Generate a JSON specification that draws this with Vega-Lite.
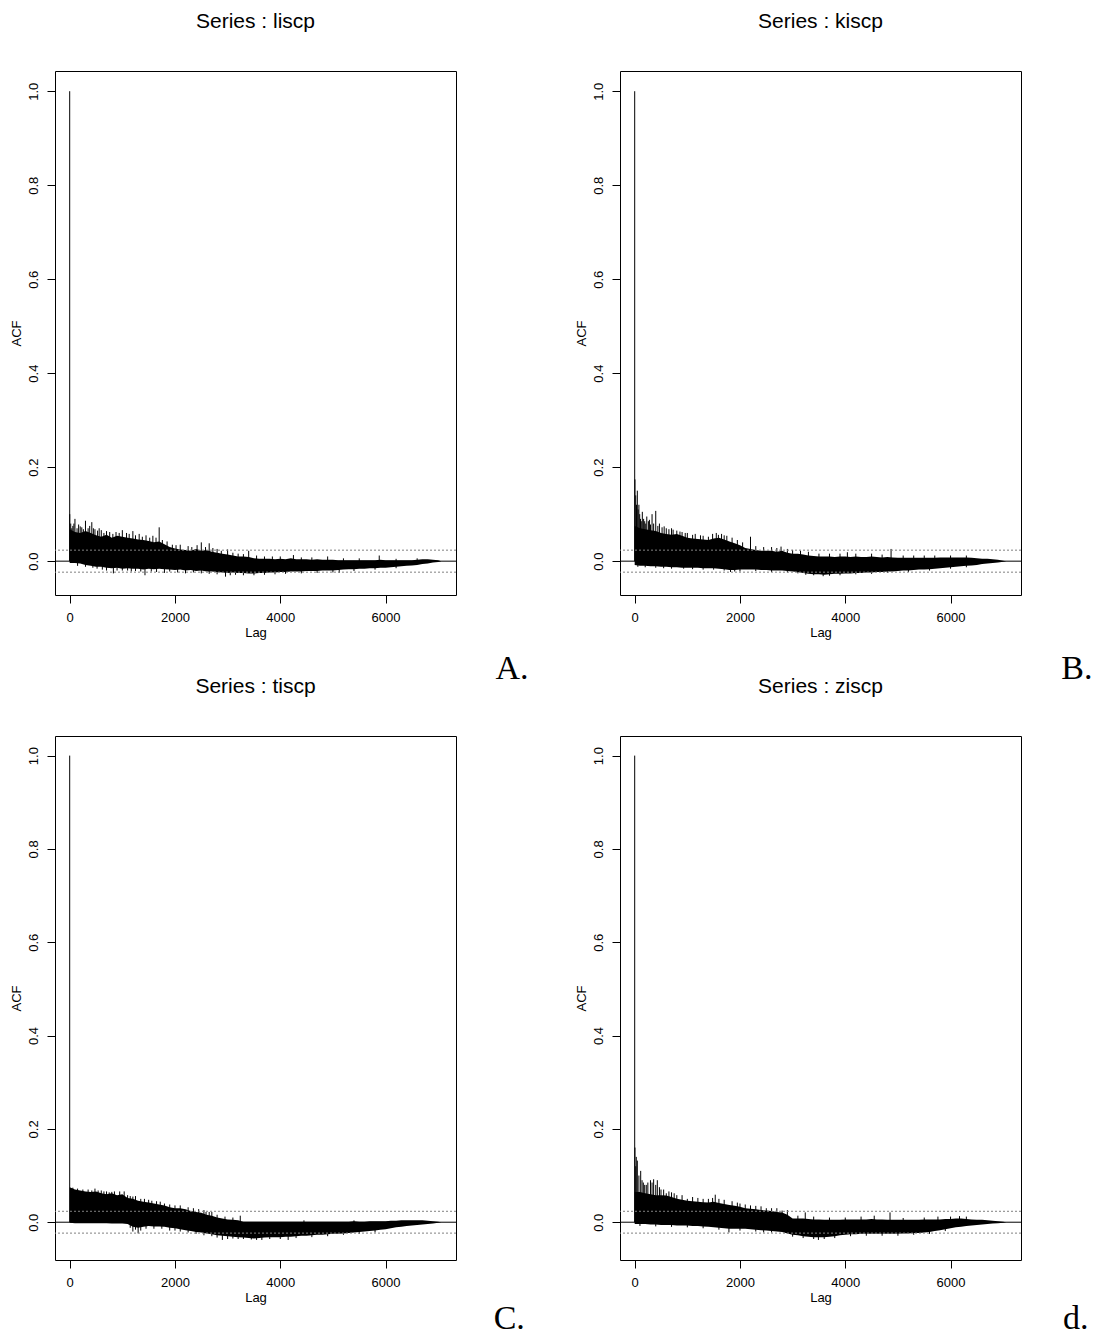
{
"$schema":"https://vega.github.io/schema/vega-lite/v6.json",
"background":"white",
"padding":{"left":9,"top":10,"right":5,"bottom":5},
"datasets":{
"env":[
{"p":"A","lag":0,"hi":0.068,"lo":-0.004},{"p":"A","lag":100,"hi":0.062,"lo":-0.004},{"p":"A","lag":200,"hi":0.06,"lo":-0.005},{"p":"A","lag":300,"hi":0.064,"lo":-0.008},{"p":"A","lag":400,"hi":0.06,"lo":-0.01},{"p":"A","lag":500,"hi":0.055,"lo":-0.012},{"p":"A","lag":600,"hi":0.052,"lo":-0.012},{"p":"A","lag":700,"hi":0.056,"lo":-0.014},{"p":"A","lag":800,"hi":0.05,"lo":-0.015},{"p":"A","lag":900,"hi":0.054,"lo":-0.014},{"p":"A","lag":1000,"hi":0.052,"lo":-0.016},{"p":"A","lag":1100,"hi":0.05,"lo":-0.015},{"p":"A","lag":1200,"hi":0.048,"lo":-0.016},{"p":"A","lag":1300,"hi":0.046,"lo":-0.016},{"p":"A","lag":1400,"hi":0.045,"lo":-0.018},{"p":"A","lag":1500,"hi":0.043,"lo":-0.016},{"p":"A","lag":1600,"hi":0.04,"lo":-0.017},{"p":"A","lag":1700,"hi":0.042,"lo":-0.016},{"p":"A","lag":1800,"hi":0.036,"lo":-0.017},{"p":"A","lag":1900,"hi":0.03,"lo":-0.018},{"p":"A","lag":2000,"hi":0.027,"lo":-0.019},{"p":"A","lag":2100,"hi":0.025,"lo":-0.018},{"p":"A","lag":2200,"hi":0.024,"lo":-0.02},{"p":"A","lag":2300,"hi":0.022,"lo":-0.019},{"p":"A","lag":2400,"hi":0.026,"lo":-0.021},{"p":"A","lag":2500,"hi":0.022,"lo":-0.02},{"p":"A","lag":2600,"hi":0.024,"lo":-0.022},{"p":"A","lag":2700,"hi":0.02,"lo":-0.022},{"p":"A","lag":2800,"hi":0.018,"lo":-0.023},{"p":"A","lag":2900,"hi":0.016,"lo":-0.024},{"p":"A","lag":3000,"hi":0.014,"lo":-0.025},{"p":"A","lag":3100,"hi":0.012,"lo":-0.024},{"p":"A","lag":3200,"hi":0.01,"lo":-0.025},{"p":"A","lag":3300,"hi":0.01,"lo":-0.025},{"p":"A","lag":3400,"hi":0.009,"lo":-0.026},{"p":"A","lag":3500,"hi":0.006,"lo":-0.026},{"p":"A","lag":3600,"hi":0.005,"lo":-0.025},{"p":"A","lag":3700,"hi":0.005,"lo":-0.025},{"p":"A","lag":3800,"hi":0.005,"lo":-0.024},{"p":"A","lag":3900,"hi":0.004,"lo":-0.024},{"p":"A","lag":4000,"hi":0.005,"lo":-0.023},{"p":"A","lag":4100,"hi":0.004,"lo":-0.023},{"p":"A","lag":4200,"hi":0.006,"lo":-0.022},{"p":"A","lag":4300,"hi":0.004,"lo":-0.022},{"p":"A","lag":4400,"hi":0.004,"lo":-0.022},{"p":"A","lag":4500,"hi":0.004,"lo":-0.021},{"p":"A","lag":4600,"hi":0.003,"lo":-0.021},{"p":"A","lag":4700,"hi":0.004,"lo":-0.021},{"p":"A","lag":4800,"hi":0.003,"lo":-0.02},{"p":"A","lag":4900,"hi":0.003,"lo":-0.02},{"p":"A","lag":5000,"hi":0.003,"lo":-0.02},{"p":"A","lag":5100,"hi":0.002,"lo":-0.019},{"p":"A","lag":5200,"hi":0.002,"lo":-0.018},{"p":"A","lag":5300,"hi":0.002,"lo":-0.017},{"p":"A","lag":5400,"hi":0.002,"lo":-0.017},{"p":"A","lag":5500,"hi":0.002,"lo":-0.016},{"p":"A","lag":5600,"hi":0.002,"lo":-0.016},{"p":"A","lag":5700,"hi":0.002,"lo":-0.015},{"p":"A","lag":5800,"hi":0.002,"lo":-0.015},{"p":"A","lag":5900,"hi":0.003,"lo":-0.014},{"p":"A","lag":6000,"hi":0.002,"lo":-0.014},{"p":"A","lag":6100,"hi":0.002,"lo":-0.013},{"p":"A","lag":6200,"hi":0.002,"lo":-0.012},{"p":"A","lag":6300,"hi":0.002,"lo":-0.011},{"p":"A","lag":6400,"hi":0.002,"lo":-0.01},{"p":"A","lag":6500,"hi":0.002,"lo":-0.009},{"p":"A","lag":6600,"hi":0.003,"lo":-0.008},{"p":"A","lag":6700,"hi":0.004,"lo":-0.006},{"p":"A","lag":6800,"hi":0.004,"lo":-0.005},{"p":"A","lag":6900,"hi":0.003,"lo":-0.003},{"p":"A","lag":7000,"hi":0.002,"lo":-0.002},{"p":"A","lag":7058,"hi":0,"lo":0},
{"p":"B","lag":0,"hi":0.075,"lo":-0.008},{"p":"B","lag":100,"hi":0.07,"lo":-0.01},{"p":"B","lag":200,"hi":0.068,"lo":-0.01},{"p":"B","lag":300,"hi":0.066,"lo":-0.011},{"p":"B","lag":400,"hi":0.064,"lo":-0.011},{"p":"B","lag":500,"hi":0.06,"lo":-0.012},{"p":"B","lag":600,"hi":0.058,"lo":-0.012},{"p":"B","lag":700,"hi":0.056,"lo":-0.013},{"p":"B","lag":800,"hi":0.058,"lo":-0.013},{"p":"B","lag":900,"hi":0.054,"lo":-0.014},{"p":"B","lag":1000,"hi":0.05,"lo":-0.014},{"p":"B","lag":1100,"hi":0.048,"lo":-0.014},{"p":"B","lag":1200,"hi":0.047,"lo":-0.014},{"p":"B","lag":1300,"hi":0.046,"lo":-0.015},{"p":"B","lag":1400,"hi":0.045,"lo":-0.015},{"p":"B","lag":1500,"hi":0.048,"lo":-0.015},{"p":"B","lag":1600,"hi":0.05,"lo":-0.016},{"p":"B","lag":1700,"hi":0.046,"lo":-0.017},{"p":"B","lag":1800,"hi":0.042,"lo":-0.019},{"p":"B","lag":1900,"hi":0.038,"lo":-0.019},{"p":"B","lag":2000,"hi":0.034,"lo":-0.018},{"p":"B","lag":2100,"hi":0.028,"lo":-0.018},{"p":"B","lag":2200,"hi":0.026,"lo":-0.018},{"p":"B","lag":2300,"hi":0.024,"lo":-0.018},{"p":"B","lag":2400,"hi":0.022,"lo":-0.019},{"p":"B","lag":2500,"hi":0.022,"lo":-0.019},{"p":"B","lag":2600,"hi":0.022,"lo":-0.02},{"p":"B","lag":2700,"hi":0.02,"lo":-0.02},{"p":"B","lag":2800,"hi":0.022,"lo":-0.02},{"p":"B","lag":2900,"hi":0.018,"lo":-0.021},{"p":"B","lag":3000,"hi":0.016,"lo":-0.022},{"p":"B","lag":3100,"hi":0.016,"lo":-0.023},{"p":"B","lag":3200,"hi":0.014,"lo":-0.025},{"p":"B","lag":3300,"hi":0.012,"lo":-0.027},{"p":"B","lag":3400,"hi":0.011,"lo":-0.028},{"p":"B","lag":3500,"hi":0.01,"lo":-0.028},{"p":"B","lag":3600,"hi":0.01,"lo":-0.029},{"p":"B","lag":3700,"hi":0.01,"lo":-0.028},{"p":"B","lag":3800,"hi":0.009,"lo":-0.027},{"p":"B","lag":3900,"hi":0.01,"lo":-0.027},{"p":"B","lag":4000,"hi":0.01,"lo":-0.026},{"p":"B","lag":4100,"hi":0.009,"lo":-0.026},{"p":"B","lag":4200,"hi":0.01,"lo":-0.025},{"p":"B","lag":4300,"hi":0.009,"lo":-0.025},{"p":"B","lag":4400,"hi":0.009,"lo":-0.024},{"p":"B","lag":4500,"hi":0.01,"lo":-0.024},{"p":"B","lag":4600,"hi":0.009,"lo":-0.023},{"p":"B","lag":4700,"hi":0.008,"lo":-0.023},{"p":"B","lag":4800,"hi":0.009,"lo":-0.022},{"p":"B","lag":4900,"hi":0.008,"lo":-0.022},{"p":"B","lag":5000,"hi":0.007,"lo":-0.021},{"p":"B","lag":5100,"hi":0.007,"lo":-0.02},{"p":"B","lag":5200,"hi":0.007,"lo":-0.02},{"p":"B","lag":5300,"hi":0.007,"lo":-0.019},{"p":"B","lag":5400,"hi":0.007,"lo":-0.018},{"p":"B","lag":5500,"hi":0.007,"lo":-0.018},{"p":"B","lag":5600,"hi":0.007,"lo":-0.017},{"p":"B","lag":5700,"hi":0.007,"lo":-0.016},{"p":"B","lag":5800,"hi":0.008,"lo":-0.015},{"p":"B","lag":5900,"hi":0.008,"lo":-0.014},{"p":"B","lag":6000,"hi":0.008,"lo":-0.013},{"p":"B","lag":6100,"hi":0.008,"lo":-0.012},{"p":"B","lag":6200,"hi":0.008,"lo":-0.011},{"p":"B","lag":6300,"hi":0.008,"lo":-0.01},{"p":"B","lag":6400,"hi":0.007,"lo":-0.009},{"p":"B","lag":6500,"hi":0.006,"lo":-0.008},{"p":"B","lag":6600,"hi":0.005,"lo":-0.006},{"p":"B","lag":6700,"hi":0.005,"lo":-0.005},{"p":"B","lag":6800,"hi":0.004,"lo":-0.004},{"p":"B","lag":6900,"hi":0.003,"lo":-0.003},{"p":"B","lag":7000,"hi":0.001,"lo":-0.001},{"p":"B","lag":7058,"hi":0,"lo":0},
{"p":"C","lag":0,"hi":0.075,"lo":-0.001},{"p":"C","lag":100,"hi":0.07,"lo":-0.002},{"p":"C","lag":200,"hi":0.068,"lo":-0.002},{"p":"C","lag":300,"hi":0.066,"lo":-0.002},{"p":"C","lag":400,"hi":0.065,"lo":-0.002},{"p":"C","lag":500,"hi":0.066,"lo":-0.002},{"p":"C","lag":600,"hi":0.062,"lo":-0.002},{"p":"C","lag":700,"hi":0.06,"lo":-0.002},{"p":"C","lag":800,"hi":0.062,"lo":-0.003},{"p":"C","lag":900,"hi":0.058,"lo":-0.003},{"p":"C","lag":1000,"hi":0.06,"lo":-0.003},{"p":"C","lag":1100,"hi":0.052,"lo":-0.004},{"p":"C","lag":1200,"hi":0.05,"lo":-0.01},{"p":"C","lag":1300,"hi":0.046,"lo":-0.012},{"p":"C","lag":1400,"hi":0.044,"lo":-0.01},{"p":"C","lag":1500,"hi":0.042,"lo":-0.008},{"p":"C","lag":1600,"hi":0.04,"lo":-0.009},{"p":"C","lag":1700,"hi":0.038,"lo":-0.009},{"p":"C","lag":1800,"hi":0.036,"lo":-0.01},{"p":"C","lag":1900,"hi":0.032,"lo":-0.012},{"p":"C","lag":2000,"hi":0.03,"lo":-0.013},{"p":"C","lag":2100,"hi":0.03,"lo":-0.015},{"p":"C","lag":2200,"hi":0.028,"lo":-0.017},{"p":"C","lag":2300,"hi":0.024,"lo":-0.019},{"p":"C","lag":2400,"hi":0.022,"lo":-0.021},{"p":"C","lag":2500,"hi":0.02,"lo":-0.022},{"p":"C","lag":2600,"hi":0.016,"lo":-0.024},{"p":"C","lag":2700,"hi":0.014,"lo":-0.026},{"p":"C","lag":2800,"hi":0.01,"lo":-0.028},{"p":"C","lag":2900,"hi":0.008,"lo":-0.029},{"p":"C","lag":3000,"hi":0.006,"lo":-0.03},{"p":"C","lag":3100,"hi":0.005,"lo":-0.031},{"p":"C","lag":3200,"hi":0.004,"lo":-0.032},{"p":"C","lag":3300,"hi":0.001,"lo":-0.033},{"p":"C","lag":3400,"hi":0.001,"lo":-0.034},{"p":"C","lag":3500,"hi":0.001,"lo":-0.035},{"p":"C","lag":3600,"hi":0.001,"lo":-0.034},{"p":"C","lag":3700,"hi":0.001,"lo":-0.033},{"p":"C","lag":3800,"hi":0.001,"lo":-0.032},{"p":"C","lag":3900,"hi":0.001,"lo":-0.032},{"p":"C","lag":4000,"hi":0.001,"lo":-0.032},{"p":"C","lag":4100,"hi":0.001,"lo":-0.031},{"p":"C","lag":4200,"hi":0.001,"lo":-0.031},{"p":"C","lag":4300,"hi":0.001,"lo":-0.03},{"p":"C","lag":4400,"hi":0.001,"lo":-0.029},{"p":"C","lag":4500,"hi":0.001,"lo":-0.029},{"p":"C","lag":4600,"hi":0.001,"lo":-0.028},{"p":"C","lag":4700,"hi":0.001,"lo":-0.027},{"p":"C","lag":4800,"hi":0.001,"lo":-0.027},{"p":"C","lag":4900,"hi":0.001,"lo":-0.026},{"p":"C","lag":5000,"hi":0.001,"lo":-0.025},{"p":"C","lag":5100,"hi":0.001,"lo":-0.025},{"p":"C","lag":5200,"hi":0.001,"lo":-0.024},{"p":"C","lag":5300,"hi":0.001,"lo":-0.023},{"p":"C","lag":5400,"hi":0.002,"lo":-0.022},{"p":"C","lag":5500,"hi":0.001,"lo":-0.021},{"p":"C","lag":5600,"hi":0.001,"lo":-0.02},{"p":"C","lag":5700,"hi":0.002,"lo":-0.019},{"p":"C","lag":5800,"hi":0.002,"lo":-0.018},{"p":"C","lag":5900,"hi":0.002,"lo":-0.016},{"p":"C","lag":6000,"hi":0.002,"lo":-0.015},{"p":"C","lag":6100,"hi":0.003,"lo":-0.013},{"p":"C","lag":6200,"hi":0.003,"lo":-0.011},{"p":"C","lag":6300,"hi":0.004,"lo":-0.01},{"p":"C","lag":6400,"hi":0.004,"lo":-0.008},{"p":"C","lag":6500,"hi":0.004,"lo":-0.007},{"p":"C","lag":6600,"hi":0.004,"lo":-0.006},{"p":"C","lag":6700,"hi":0.004,"lo":-0.005},{"p":"C","lag":6800,"hi":0.003,"lo":-0.004},{"p":"C","lag":6900,"hi":0.002,"lo":-0.003},{"p":"C","lag":7000,"hi":0.001,"lo":-0.001},{"p":"C","lag":7058,"hi":0,"lo":0},
{"p":"D","lag":0,"hi":0.065,"lo":-0.004},{"p":"D","lag":100,"hi":0.065,"lo":-0.004},{"p":"D","lag":200,"hi":0.062,"lo":-0.004},{"p":"D","lag":300,"hi":0.06,"lo":-0.005},{"p":"D","lag":400,"hi":0.058,"lo":-0.005},{"p":"D","lag":500,"hi":0.058,"lo":-0.006},{"p":"D","lag":600,"hi":0.057,"lo":-0.006},{"p":"D","lag":700,"hi":0.054,"lo":-0.006},{"p":"D","lag":800,"hi":0.05,"lo":-0.007},{"p":"D","lag":900,"hi":0.048,"lo":-0.007},{"p":"D","lag":1000,"hi":0.046,"lo":-0.007},{"p":"D","lag":1100,"hi":0.045,"lo":-0.008},{"p":"D","lag":1200,"hi":0.044,"lo":-0.008},{"p":"D","lag":1300,"hi":0.043,"lo":-0.009},{"p":"D","lag":1400,"hi":0.042,"lo":-0.01},{"p":"D","lag":1500,"hi":0.044,"lo":-0.011},{"p":"D","lag":1600,"hi":0.041,"lo":-0.012},{"p":"D","lag":1700,"hi":0.039,"lo":-0.013},{"p":"D","lag":1800,"hi":0.037,"lo":-0.014},{"p":"D","lag":1900,"hi":0.035,"lo":-0.014},{"p":"D","lag":2000,"hi":0.033,"lo":-0.014},{"p":"D","lag":2100,"hi":0.03,"lo":-0.014},{"p":"D","lag":2200,"hi":0.029,"lo":-0.015},{"p":"D","lag":2300,"hi":0.028,"lo":-0.016},{"p":"D","lag":2400,"hi":0.026,"lo":-0.017},{"p":"D","lag":2500,"hi":0.025,"lo":-0.018},{"p":"D","lag":2600,"hi":0.024,"lo":-0.019},{"p":"D","lag":2700,"hi":0.022,"lo":-0.02},{"p":"D","lag":2800,"hi":0.021,"lo":-0.021},{"p":"D","lag":2900,"hi":0.016,"lo":-0.024},{"p":"D","lag":3000,"hi":0.008,"lo":-0.027},{"p":"D","lag":3100,"hi":0.008,"lo":-0.028},{"p":"D","lag":3200,"hi":0.008,"lo":-0.03},{"p":"D","lag":3300,"hi":0.007,"lo":-0.031},{"p":"D","lag":3400,"hi":0.006,"lo":-0.032},{"p":"D","lag":3500,"hi":0.006,"lo":-0.032},{"p":"D","lag":3600,"hi":0.005,"lo":-0.032},{"p":"D","lag":3700,"hi":0.005,"lo":-0.031},{"p":"D","lag":3800,"hi":0.005,"lo":-0.03},{"p":"D","lag":3900,"hi":0.005,"lo":-0.028},{"p":"D","lag":4000,"hi":0.006,"lo":-0.027},{"p":"D","lag":4100,"hi":0.006,"lo":-0.026},{"p":"D","lag":4200,"hi":0.006,"lo":-0.026},{"p":"D","lag":4300,"hi":0.006,"lo":-0.025},{"p":"D","lag":4400,"hi":0.006,"lo":-0.025},{"p":"D","lag":4500,"hi":0.007,"lo":-0.025},{"p":"D","lag":4600,"hi":0.006,"lo":-0.025},{"p":"D","lag":4700,"hi":0.006,"lo":-0.025},{"p":"D","lag":4800,"hi":0.005,"lo":-0.025},{"p":"D","lag":4900,"hi":0.005,"lo":-0.025},{"p":"D","lag":5000,"hi":0.005,"lo":-0.025},{"p":"D","lag":5100,"hi":0.005,"lo":-0.024},{"p":"D","lag":5200,"hi":0.005,"lo":-0.024},{"p":"D","lag":5300,"hi":0.005,"lo":-0.023},{"p":"D","lag":5400,"hi":0.005,"lo":-0.023},{"p":"D","lag":5500,"hi":0.006,"lo":-0.022},{"p":"D","lag":5600,"hi":0.006,"lo":-0.021},{"p":"D","lag":5700,"hi":0.006,"lo":-0.019},{"p":"D","lag":5800,"hi":0.006,"lo":-0.017},{"p":"D","lag":5900,"hi":0.007,"lo":-0.015},{"p":"D","lag":6000,"hi":0.007,"lo":-0.013},{"p":"D","lag":6100,"hi":0.008,"lo":-0.011},{"p":"D","lag":6200,"hi":0.008,"lo":-0.01},{"p":"D","lag":6300,"hi":0.007,"lo":-0.008},{"p":"D","lag":6400,"hi":0.006,"lo":-0.007},{"p":"D","lag":6500,"hi":0.005,"lo":-0.006},{"p":"D","lag":6600,"hi":0.005,"lo":-0.005},{"p":"D","lag":6700,"hi":0.004,"lo":-0.004},{"p":"D","lag":6800,"hi":0.003,"lo":-0.003},{"p":"D","lag":6900,"hi":0.002,"lo":-0.002},{"p":"D","lag":7000,"hi":0.001,"lo":-0.001},{"p":"D","lag":7058,"hi":0,"lo":0}
],
"spk":[
{"p":"A","lag":0,"acf":1.0},{"p":"A","lag":1,"acf":0.10},{"p":"A","lag":20,"acf":0.08},{"p":"A","lag":40,"acf":0.07},{"p":"A","lag":60,"acf":0.075},{"p":"A","lag":80,"acf":0.08},{"p":"A","lag":100,"acf":0.09},{"p":"A","lag":140,"acf":0.07},{"p":"A","lag":170,"acf":0.078},{"p":"A","lag":200,"acf":0.074},{"p":"A","lag":230,"acf":0.072},{"p":"A","lag":260,"acf":0.068},{"p":"A","lag":300,"acf":0.086},{"p":"A","lag":350,"acf":0.07},{"p":"A","lag":380,"acf":0.075},{"p":"A","lag":420,"acf":0.083},{"p":"A","lag":450,"acf":0.07},{"p":"A","lag":480,"acf":0.068},{"p":"A","lag":530,"acf":0.065},{"p":"A","lag":560,"acf":0.07},{"p":"A","lag":600,"acf":0.066},{"p":"A","lag":650,"acf":0.06},{"p":"A","lag":700,"acf":0.064},{"p":"A","lag":760,"acf":0.062},{"p":"A","lag":820,"acf":0.058},{"p":"A","lag":880,"acf":0.062},{"p":"A","lag":940,"acf":0.06},{"p":"A","lag":1000,"acf":0.066},{"p":"A","lag":1080,"acf":0.06},{"p":"A","lag":1130,"acf":0.058},{"p":"A","lag":1200,"acf":0.064},{"p":"A","lag":1250,"acf":0.055},{"p":"A","lag":1320,"acf":0.058},{"p":"A","lag":1380,"acf":0.052},{"p":"A","lag":1450,"acf":0.055},{"p":"A","lag":1520,"acf":0.05},{"p":"A","lag":1580,"acf":0.054},{"p":"A","lag":1640,"acf":0.05},{"p":"A","lag":1700,"acf":0.072},{"p":"A","lag":1760,"acf":0.045},{"p":"A","lag":1850,"acf":0.042},{"p":"A","lag":1950,"acf":0.035},{"p":"A","lag":2020,"acf":0.034},{"p":"A","lag":2100,"acf":0.035},{"p":"A","lag":2250,"acf":0.032},{"p":"A","lag":2320,"acf":0.03},{"p":"A","lag":2420,"acf":0.034},{"p":"A","lag":2500,"acf":0.04},{"p":"A","lag":2580,"acf":0.03},{"p":"A","lag":2650,"acf":0.038},{"p":"A","lag":2720,"acf":0.028},{"p":"A","lag":2800,"acf":0.026},{"p":"A","lag":2880,"acf":0.022},{"p":"A","lag":3000,"acf":0.025},{"p":"A","lag":3100,"acf":0.018},{"p":"A","lag":3200,"acf":0.016},{"p":"A","lag":3300,"acf":0.015},{"p":"A","lag":3400,"acf":0.022},{"p":"A","lag":3550,"acf":0.012},{"p":"A","lag":3700,"acf":0.01},{"p":"A","lag":3850,"acf":0.01},{"p":"A","lag":4000,"acf":0.01},{"p":"A","lag":4250,"acf":0.013},{"p":"A","lag":4400,"acf":0.008},{"p":"A","lag":4600,"acf":0.008},{"p":"A","lag":4900,"acf":0.01},{"p":"A","lag":5200,"acf":0.006},{"p":"A","lag":5500,"acf":0.006},{"p":"A","lag":5880,"acf":0.012},{"p":"A","lag":6200,"acf":0.005},{"p":"A","lag":6600,"acf":0.006},
{"p":"A","lag":150,"acf":-0.01},{"p":"A","lag":300,"acf":-0.012},{"p":"A","lag":440,"acf":-0.014},{"p":"A","lag":520,"acf":-0.016},{"p":"A","lag":620,"acf":-0.018},{"p":"A","lag":700,"acf":-0.02},{"p":"A","lag":830,"acf":-0.026},{"p":"A","lag":900,"acf":-0.02},{"p":"A","lag":1000,"acf":-0.02},{"p":"A","lag":1100,"acf":-0.02},{"p":"A","lag":1170,"acf":-0.022},{"p":"A","lag":1250,"acf":-0.021},{"p":"A","lag":1350,"acf":-0.022},{"p":"A","lag":1430,"acf":-0.03},{"p":"A","lag":1550,"acf":-0.022},{"p":"A","lag":1650,"acf":-0.023},{"p":"A","lag":1800,"acf":-0.025},{"p":"A","lag":1900,"acf":-0.022},{"p":"A","lag":2050,"acf":-0.024},{"p":"A","lag":2200,"acf":-0.026},{"p":"A","lag":2350,"acf":-0.024},{"p":"A","lag":2500,"acf":-0.026},{"p":"A","lag":2650,"acf":-0.027},{"p":"A","lag":2800,"acf":-0.028},{"p":"A","lag":2960,"acf":-0.033},{"p":"A","lag":3050,"acf":-0.03},{"p":"A","lag":3150,"acf":-0.029},{"p":"A","lag":3300,"acf":-0.03},{"p":"A","lag":3500,"acf":-0.03},{"p":"A","lag":3700,"acf":-0.029},{"p":"A","lag":3900,"acf":-0.028},{"p":"A","lag":4100,"acf":-0.027},{"p":"A","lag":4400,"acf":-0.026},{"p":"A","lag":4700,"acf":-0.025},{"p":"A","lag":5000,"acf":-0.024},{"p":"A","lag":5120,"acf":-0.025},{"p":"A","lag":5400,"acf":-0.021},{"p":"A","lag":5800,"acf":-0.018},{"p":"A","lag":6200,"acf":-0.015},
{"p":"B","lag":0,"acf":1.0},{"p":"B","lag":5,"acf":0.174},{"p":"B","lag":20,"acf":0.14},{"p":"B","lag":35,"acf":0.12},{"p":"B","lag":50,"acf":0.15},{"p":"B","lag":65,"acf":0.11},{"p":"B","lag":80,"acf":0.12},{"p":"B","lag":95,"acf":0.1},{"p":"B","lag":110,"acf":0.09},{"p":"B","lag":125,"acf":0.085},{"p":"B","lag":145,"acf":0.105},{"p":"B","lag":170,"acf":0.09},{"p":"B","lag":190,"acf":0.085},{"p":"B","lag":210,"acf":0.08},{"p":"B","lag":230,"acf":0.095},{"p":"B","lag":260,"acf":0.085},{"p":"B","lag":280,"acf":0.088},{"p":"B","lag":300,"acf":0.078},{"p":"B","lag":330,"acf":0.1},{"p":"B","lag":360,"acf":0.08},{"p":"B","lag":400,"acf":0.107},{"p":"B","lag":440,"acf":0.075},{"p":"B","lag":470,"acf":0.08},{"p":"B","lag":520,"acf":0.072},{"p":"B","lag":560,"acf":0.074},{"p":"B","lag":600,"acf":0.07},{"p":"B","lag":650,"acf":0.068},{"p":"B","lag":700,"acf":0.07},{"p":"B","lag":730,"acf":0.067},{"p":"B","lag":800,"acf":0.065},{"p":"B","lag":860,"acf":0.063},{"p":"B","lag":900,"acf":0.062},{"p":"B","lag":960,"acf":0.06},{"p":"B","lag":1000,"acf":0.06},{"p":"B","lag":1100,"acf":0.056},{"p":"B","lag":1150,"acf":0.058},{"p":"B","lag":1250,"acf":0.055},{"p":"B","lag":1300,"acf":0.054},{"p":"B","lag":1400,"acf":0.052},{"p":"B","lag":1480,"acf":0.058},{"p":"B","lag":1550,"acf":0.06},{"p":"B","lag":1590,"acf":0.056},{"p":"B","lag":1650,"acf":0.058},{"p":"B","lag":1700,"acf":0.055},{"p":"B","lag":1750,"acf":0.054},{"p":"B","lag":1850,"acf":0.05},{"p":"B","lag":1950,"acf":0.045},{"p":"B","lag":2050,"acf":0.04},{"p":"B","lag":2200,"acf":0.052},{"p":"B","lag":2300,"acf":0.032},{"p":"B","lag":2450,"acf":0.03},{"p":"B","lag":2600,"acf":0.03},{"p":"B","lag":2700,"acf":0.028},{"p":"B","lag":2780,"acf":0.031},{"p":"B","lag":2900,"acf":0.026},{"p":"B","lag":3000,"acf":0.024},{"p":"B","lag":3150,"acf":0.022},{"p":"B","lag":3300,"acf":0.02},{"p":"B","lag":3500,"acf":0.016},{"p":"B","lag":3700,"acf":0.016},{"p":"B","lag":3900,"acf":0.016},{"p":"B","lag":4040,"acf":0.019},{"p":"B","lag":4200,"acf":0.016},{"p":"B","lag":4500,"acf":0.016},{"p":"B","lag":4700,"acf":0.014},{"p":"B","lag":4870,"acf":0.026},{"p":"B","lag":5100,"acf":0.012},{"p":"B","lag":5300,"acf":0.012},{"p":"B","lag":5500,"acf":0.012},{"p":"B","lag":5700,"acf":0.012},{"p":"B","lag":6000,"acf":0.012},{"p":"B","lag":6300,"acf":0.012},
{"p":"B","lag":60,"acf":-0.012},{"p":"B","lag":200,"acf":-0.013},{"p":"B","lag":400,"acf":-0.014},{"p":"B","lag":550,"acf":-0.015},{"p":"B","lag":700,"acf":-0.016},{"p":"B","lag":930,"acf":-0.016},{"p":"B","lag":1100,"acf":-0.017},{"p":"B","lag":1300,"acf":-0.018},{"p":"B","lag":1500,"acf":-0.018},{"p":"B","lag":1700,"acf":-0.02},{"p":"B","lag":1820,"acf":-0.023},{"p":"B","lag":1900,"acf":-0.022},{"p":"B","lag":2000,"acf":-0.022},{"p":"B","lag":2300,"acf":-0.021},{"p":"B","lag":2600,"acf":-0.023},{"p":"B","lag":2900,"acf":-0.024},{"p":"B","lag":3100,"acf":-0.026},{"p":"B","lag":3250,"acf":-0.029},{"p":"B","lag":3400,"acf":-0.03},{"p":"B","lag":3580,"acf":-0.032},{"p":"B","lag":3700,"acf":-0.031},{"p":"B","lag":3900,"acf":-0.03},{"p":"B","lag":4200,"acf":-0.028},{"p":"B","lag":4500,"acf":-0.027},{"p":"B","lag":4800,"acf":-0.025},{"p":"B","lag":5200,"acf":-0.023},{"p":"B","lag":5600,"acf":-0.02},{"p":"B","lag":6000,"acf":-0.016},{"p":"B","lag":6300,"acf":-0.013},
{"p":"C","lag":0,"acf":1.0},{"p":"C","lag":30,"acf":0.072},{"p":"C","lag":60,"acf":0.074},{"p":"C","lag":150,"acf":0.072},{"p":"C","lag":250,"acf":0.07},{"p":"C","lag":350,"acf":0.07},{"p":"C","lag":420,"acf":0.068},{"p":"C","lag":480,"acf":0.072},{"p":"C","lag":540,"acf":0.068},{"p":"C","lag":600,"acf":0.068},{"p":"C","lag":650,"acf":0.066},{"p":"C","lag":700,"acf":0.066},{"p":"C","lag":750,"acf":0.064},{"p":"C","lag":800,"acf":0.065},{"p":"C","lag":850,"acf":0.066},{"p":"C","lag":950,"acf":0.066},{"p":"C","lag":1035,"acf":0.066},{"p":"C","lag":1100,"acf":0.058},{"p":"C","lag":1150,"acf":0.056},{"p":"C","lag":1200,"acf":0.055},{"p":"C","lag":1250,"acf":0.056},{"p":"C","lag":1350,"acf":0.05},{"p":"C","lag":1420,"acf":0.05},{"p":"C","lag":1500,"acf":0.048},{"p":"C","lag":1560,"acf":0.046},{"p":"C","lag":1650,"acf":0.045},{"p":"C","lag":1720,"acf":0.044},{"p":"C","lag":1800,"acf":0.04},{"p":"C","lag":1900,"acf":0.038},{"p":"C","lag":2000,"acf":0.036},{"p":"C","lag":2100,"acf":0.036},{"p":"C","lag":2250,"acf":0.032},{"p":"C","lag":2350,"acf":0.03},{"p":"C","lag":2450,"acf":0.028},{"p":"C","lag":2550,"acf":0.026},{"p":"C","lag":2590,"acf":0.022},{"p":"C","lag":2650,"acf":0.022},{"p":"C","lag":2700,"acf":0.022},{"p":"C","lag":2800,"acf":0.016},{"p":"C","lag":2950,"acf":0.012},{"p":"C","lag":3100,"acf":0.01},{"p":"C","lag":3240,"acf":0.014},{"p":"C","lag":4450,"acf":0.004},{"p":"C","lag":5400,"acf":0.004},
{"p":"C","lag":1150,"acf":-0.012},{"p":"C","lag":1200,"acf":-0.02},{"p":"C","lag":1250,"acf":-0.016},{"p":"C","lag":1300,"acf":-0.024},{"p":"C","lag":1350,"acf":-0.018},{"p":"C","lag":1450,"acf":-0.014},{"p":"C","lag":1600,"acf":-0.014},{"p":"C","lag":1750,"acf":-0.014},{"p":"C","lag":1900,"acf":-0.018},{"p":"C","lag":2000,"acf":-0.018},{"p":"C","lag":2100,"acf":-0.02},{"p":"C","lag":2250,"acf":-0.022},{"p":"C","lag":2400,"acf":-0.025},{"p":"C","lag":2550,"acf":-0.028},{"p":"C","lag":2700,"acf":-0.03},{"p":"C","lag":2800,"acf":-0.033},{"p":"C","lag":2900,"acf":-0.038},{"p":"C","lag":3000,"acf":-0.036},{"p":"C","lag":3100,"acf":-0.035},{"p":"C","lag":3200,"acf":-0.036},{"p":"C","lag":3300,"acf":-0.036},{"p":"C","lag":3450,"acf":-0.037},{"p":"C","lag":3550,"acf":-0.038},{"p":"C","lag":3650,"acf":-0.038},{"p":"C","lag":3800,"acf":-0.036},{"p":"C","lag":4000,"acf":-0.036},{"p":"C","lag":4150,"acf":-0.038},{"p":"C","lag":4300,"acf":-0.034},{"p":"C","lag":4600,"acf":-0.032},{"p":"C","lag":4900,"acf":-0.03},{"p":"C","lag":5200,"acf":-0.027},{"p":"C","lag":5500,"acf":-0.025},{"p":"C","lag":5800,"acf":-0.022},
{"p":"D","lag":0,"acf":1.0},{"p":"D","lag":5,"acf":0.16},{"p":"D","lag":20,"acf":0.12},{"p":"D","lag":30,"acf":0.14},{"p":"D","lag":50,"acf":0.132},{"p":"D","lag":80,"acf":0.1},{"p":"D","lag":114,"acf":0.11},{"p":"D","lag":140,"acf":0.09},{"p":"D","lag":164,"acf":0.085},{"p":"D","lag":190,"acf":0.08},{"p":"D","lag":220,"acf":0.08},{"p":"D","lag":250,"acf":0.085},{"p":"D","lag":300,"acf":0.09},{"p":"D","lag":330,"acf":0.085},{"p":"D","lag":360,"acf":0.092},{"p":"D","lag":400,"acf":0.08},{"p":"D","lag":430,"acf":0.09},{"p":"D","lag":470,"acf":0.075},{"p":"D","lag":500,"acf":0.07},{"p":"D","lag":550,"acf":0.07},{"p":"D","lag":600,"acf":0.062},{"p":"D","lag":650,"acf":0.066},{"p":"D","lag":700,"acf":0.064},{"p":"D","lag":750,"acf":0.062},{"p":"D","lag":800,"acf":0.058},{"p":"D","lag":900,"acf":0.058},{"p":"D","lag":1000,"acf":0.05},{"p":"D","lag":1100,"acf":0.054},{"p":"D","lag":1200,"acf":0.052},{"p":"D","lag":1300,"acf":0.05},{"p":"D","lag":1400,"acf":0.05},{"p":"D","lag":1480,"acf":0.052},{"p":"D","lag":1530,"acf":0.059},{"p":"D","lag":1600,"acf":0.05},{"p":"D","lag":1700,"acf":0.048},{"p":"D","lag":1850,"acf":0.045},{"p":"D","lag":1950,"acf":0.042},{"p":"D","lag":2000,"acf":0.04},{"p":"D","lag":2100,"acf":0.038},{"p":"D","lag":2200,"acf":0.036},{"p":"D","lag":2300,"acf":0.035},{"p":"D","lag":2400,"acf":0.034},{"p":"D","lag":2500,"acf":0.03},{"p":"D","lag":2600,"acf":0.03},{"p":"D","lag":2700,"acf":0.03},{"p":"D","lag":2800,"acf":0.025},{"p":"D","lag":2900,"acf":0.026},{"p":"D","lag":3100,"acf":0.014},{"p":"D","lag":3240,"acf":0.021},{"p":"D","lag":3400,"acf":0.012},{"p":"D","lag":3700,"acf":0.01},{"p":"D","lag":4000,"acf":0.01},{"p":"D","lag":4300,"acf":0.012},{"p":"D","lag":4550,"acf":0.014},{"p":"D","lag":4850,"acf":0.021},{"p":"D","lag":5100,"acf":0.009},{"p":"D","lag":5500,"acf":0.01},{"p":"D","lag":5760,"acf":0.012},{"p":"D","lag":6000,"acf":0.012},{"p":"D","lag":6170,"acf":0.013},{"p":"D","lag":6300,"acf":0.012},
{"p":"D","lag":100,"acf":-0.008},{"p":"D","lag":400,"acf":-0.009},{"p":"D","lag":700,"acf":-0.01},{"p":"D","lag":1000,"acf":-0.011},{"p":"D","lag":1300,"acf":-0.013},{"p":"D","lag":1600,"acf":-0.016},{"p":"D","lag":1790,"acf":-0.022},{"p":"D","lag":2000,"acf":-0.018},{"p":"D","lag":2300,"acf":-0.02},{"p":"D","lag":2450,"acf":-0.022},{"p":"D","lag":2600,"acf":-0.022},{"p":"D","lag":3000,"acf":-0.031},{"p":"D","lag":3200,"acf":-0.034},{"p":"D","lag":3400,"acf":-0.036},{"p":"D","lag":3490,"acf":-0.038},{"p":"D","lag":3600,"acf":-0.036},{"p":"D","lag":3800,"acf":-0.034},{"p":"D","lag":4100,"acf":-0.03},{"p":"D","lag":4400,"acf":-0.029},{"p":"D","lag":4700,"acf":-0.029},{"p":"D","lag":5000,"acf":-0.029},{"p":"D","lag":5300,"acf":-0.027},{"p":"D","lag":5600,"acf":-0.025},{"p":"D","lag":5900,"acf":-0.019}
],
"ci":[{"acf":0.0234},{"acf":-0.0234}],
"base":[{"acf":0}],
"let":[{"p":"A","label":"A."},{"p":"B","label":"B."},{"p":"C","label":"C."},{"p":"D","label":"d."}]
},
"columns":2,
"spacing":{"row":141,"column":164},
"bounds":"flush",
"concat":[
{"width":401,"height":524,"title":{"text":"Series : liscp"},
"layer":[
{"data":{"name":"env"},"transform":[{"filter":"datum.p==='A'"}],"mark":{"type":"area","color":"black","interpolate":"linear"},
"encoding":{"x":{"field":"lag","type":"quantitative","scale":{"domain":[-279,7338],"nice":false,"zero":false},"axis":{"title":"Lag","values":[0,2000,4000,6000],"format":"d"}},
"y":{"field":"hi","type":"quantitative","scale":{"domain":[-0.072,1.043],"nice":false,"zero":false},"axis":{"title":"ACF","values":[0,0.2,0.4,0.6,0.8,1],"format":".1f"}},"y2":{"field":"lo"}}},
{"data":{"name":"spk"},"transform":[{"filter":"datum.p==='A'"}],"mark":{"type":"rule","color":"black","strokeWidth":1},
"encoding":{"x":{"field":"lag","type":"quantitative"},"y":{"field":"acf","type":"quantitative"},"y2":{"datum":0}}},
{"data":{"name":"ci"},"mark":{"type":"rule","color":"#808080","strokeDash":[2,2],"strokeWidth":1},"encoding":{"y":{"field":"acf","type":"quantitative"}}},
{"data":{"name":"base"},"mark":{"type":"rule","color":"black","strokeWidth":1},"encoding":{"y":{"field":"acf","type":"quantitative"}}},
{"data":{"name":"let"},"transform":[{"filter":"datum.p==='A'"}],"mark":{"type":"text","font":"Liberation Serif","fontSize":34,"align":"center","baseline":"alphabetic","color":"black"},
"encoding":{"x":{"datum":8400,"type":"quantitative"},"y":{"datum":-0.25,"type":"quantitative"},"text":{"field":"label"}}}
]},
{"width":401,"height":524,"title":{"text":"Series : kiscp"},
"layer":[
{"data":{"name":"env"},"transform":[{"filter":"datum.p==='B'"}],"mark":{"type":"area","color":"black","interpolate":"linear"},
"encoding":{"x":{"field":"lag","type":"quantitative","scale":{"domain":[-279,7338],"nice":false,"zero":false},"axis":{"title":"Lag","values":[0,2000,4000,6000],"format":"d"}},
"y":{"field":"hi","type":"quantitative","scale":{"domain":[-0.072,1.043],"nice":false,"zero":false},"axis":{"title":"ACF","values":[0,0.2,0.4,0.6,0.8,1],"format":".1f"}},"y2":{"field":"lo"}}},
{"data":{"name":"spk"},"transform":[{"filter":"datum.p==='B'"}],"mark":{"type":"rule","color":"black","strokeWidth":1},
"encoding":{"x":{"field":"lag","type":"quantitative"},"y":{"field":"acf","type":"quantitative"},"y2":{"datum":0}}},
{"data":{"name":"ci"},"mark":{"type":"rule","color":"#808080","strokeDash":[2,2],"strokeWidth":1},"encoding":{"y":{"field":"acf","type":"quantitative"}}},
{"data":{"name":"base"},"mark":{"type":"rule","color":"black","strokeWidth":1},"encoding":{"y":{"field":"acf","type":"quantitative"}}},
{"data":{"name":"let"},"transform":[{"filter":"datum.p==='B'"}],"mark":{"type":"text","font":"Liberation Serif","fontSize":34,"align":"center","baseline":"alphabetic","color":"black"},
"encoding":{"x":{"datum":8400,"type":"quantitative"},"y":{"datum":-0.25,"type":"quantitative"},"text":{"field":"label"}}}
]},
{"width":401,"height":524,"title":{"text":"Series : tiscp"},
"layer":[
{"data":{"name":"env"},"transform":[{"filter":"datum.p==='C'"}],"mark":{"type":"area","color":"black","interpolate":"linear"},
"encoding":{"x":{"field":"lag","type":"quantitative","scale":{"domain":[-279,7338],"nice":false,"zero":false},"axis":{"title":"Lag","values":[0,2000,4000,6000],"format":"d"}},
"y":{"field":"hi","type":"quantitative","scale":{"domain":[-0.081,1.042],"nice":false,"zero":false},"axis":{"title":"ACF","values":[0,0.2,0.4,0.6,0.8,1],"format":".1f"}},"y2":{"field":"lo"}}},
{"data":{"name":"spk"},"transform":[{"filter":"datum.p==='C'"}],"mark":{"type":"rule","color":"black","strokeWidth":1},
"encoding":{"x":{"field":"lag","type":"quantitative"},"y":{"field":"acf","type":"quantitative"},"y2":{"datum":0}}},
{"data":{"name":"ci"},"mark":{"type":"rule","color":"#808080","strokeDash":[2,2],"strokeWidth":1},"encoding":{"y":{"field":"acf","type":"quantitative"}}},
{"data":{"name":"base"},"mark":{"type":"rule","color":"black","strokeWidth":1},"encoding":{"y":{"field":"acf","type":"quantitative"}}},
{"data":{"name":"let"},"transform":[{"filter":"datum.p==='C'"}],"mark":{"type":"text","font":"Liberation Serif","fontSize":34,"align":"center","baseline":"alphabetic","color":"black"},
"encoding":{"x":{"datum":8350,"type":"quantitative"},"y":{"datum":-0.229,"type":"quantitative"},"text":{"field":"label"}}}
]},
{"width":401,"height":524,"title":{"text":"Series : ziscp"},
"layer":[
{"data":{"name":"env"},"transform":[{"filter":"datum.p==='D'"}],"mark":{"type":"area","color":"black","interpolate":"linear"},
"encoding":{"x":{"field":"lag","type":"quantitative","scale":{"domain":[-279,7338],"nice":false,"zero":false},"axis":{"title":"Lag","values":[0,2000,4000,6000],"format":"d"}},
"y":{"field":"hi","type":"quantitative","scale":{"domain":[-0.081,1.042],"nice":false,"zero":false},"axis":{"title":"ACF","values":[0,0.2,0.4,0.6,0.8,1],"format":".1f"}},"y2":{"field":"lo"}}},
{"data":{"name":"spk"},"transform":[{"filter":"datum.p==='D'"}],"mark":{"type":"rule","color":"black","strokeWidth":1},
"encoding":{"x":{"field":"lag","type":"quantitative"},"y":{"field":"acf","type":"quantitative"},"y2":{"datum":0}}},
{"data":{"name":"ci"},"mark":{"type":"rule","color":"#808080","strokeDash":[2,2],"strokeWidth":1},"encoding":{"y":{"field":"acf","type":"quantitative"}}},
{"data":{"name":"base"},"mark":{"type":"rule","color":"black","strokeWidth":1},"encoding":{"y":{"field":"acf","type":"quantitative"}}},
{"data":{"name":"let"},"transform":[{"filter":"datum.p==='D'"}],"mark":{"type":"text","font":"Liberation Serif","fontSize":34,"align":"center","baseline":"alphabetic","color":"black"},
"encoding":{"x":{"datum":8380,"type":"quantitative"},"y":{"datum":-0.229,"type":"quantitative"},"text":{"field":"label"}}}
]}
],
"config":{
"view":{"stroke":"black","strokeWidth":1},
"axis":{"grid":false,"domain":false,"ticks":true,"tickColor":"black","tickSize":8,"labelColor":"black","labelFont":"Liberation Sans","labelFontSize":13,"labelFlush":false,"labelOverlap":false,"titleFont":"Liberation Sans","titleFontSize":13,"titleFontWeight":"normal","titleColor":"black"},
"axisX":{"labelPadding":8,"titlePadding":2},
"axisY":{"labelAngle":-90,"labelAlign":"center","labelBaseline":"bottom","labelPadding":7,"titlePadding":4},
"title":{"font":"Liberation Sans","fontSize":21,"fontWeight":"normal","color":"black","anchor":"middle","baseline":"alphabetic","offset":39}
}
}
